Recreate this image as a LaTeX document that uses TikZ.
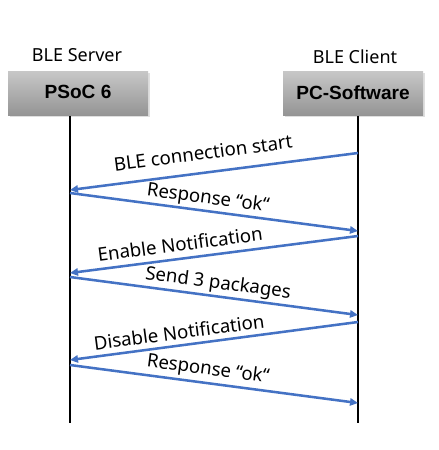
\documentclass[tikz,border=0pt]{standalone}
\usepackage{fontspec}
\setmainfont{Noto Sans}
\newfontfamily\boxfont{Liberation Sans}
\usetikzlibrary{arrows.meta,shadows}
\definecolor{msgblue}{HTML}{4472C4}
\begin{document}
\begin{tikzpicture}[x=0.75pt,y=-0.75pt,
  actor/.style={draw=none,minimum width=105pt,minimum height=33pt,inner sep=0pt,
    top color=black!22,bottom color=black!42,
    drop shadow={shadow xshift=1.2pt,shadow yshift=-1.2pt,opacity=0.25},
    font=\boxfont\bfseries\fontsize{14.3}{16}\selectfont},
  role/.style={font=\fontsize{13.5}{15}\selectfont},
  life/.style={line width=2.2pt,black},
  msg/.style={line width=1.9pt,msgblue,-{Triangle[length=6pt,width=5.5pt]}},
  lbl/.style={font=\fontsize{14}{16}\selectfont,inner sep=0pt}]
\useasboundingbox (0,0) rectangle (439,450);
\node[actor] (psoc) at (78,93.5) {\raisebox{2pt}{PSoC 6}};
\node[actor] (pc) at (353,93.5) {\raisebox{2pt}{PC-Software}};
\node[role] (srv) at (77,55) {BLE Server};
\node[role] (cli) at (355,57) {BLE Client};
\coordinate (lend) at (70,423);
\coordinate (rend) at (358,423);
\draw[life] (psoc.south -| lend) -- (lend);
\draw[life] (pc.south -| rend) -- (rend);
\coordinate (r1) at (358,153); \coordinate (l1) at (70,190);
\coordinate (l2) at (70,193); \coordinate (r2) at (358,231);
\coordinate (r3) at (358,236); \coordinate (l3) at (70,273);
\coordinate (l4) at (70,277); \coordinate (r4) at (358,315);
\coordinate (r5) at (358,322); \coordinate (l5) at (70,360);
\coordinate (l6) at (70,365); \coordinate (r6) at (358,403);
\draw[msg] (r1) -- (l1);
\draw[msg] (l2) -- (r2);
\draw[msg] (r3) -- (l3);
\draw[msg] (l4) -- (r4);
\draw[msg] (r5) -- (l5);
\draw[msg] (l6) -- (r6);
\node[lbl,rotate=7.5] (t1) at (203,153) {BLE connection start};
\node[lbl,rotate=-7.5] (t2) at (208,199) {Response “ok“};
\node[lbl,rotate=7.5] (t3) at (180,244) {Enable Notification};
\node[lbl,rotate=-7.5] (t4) at (218,284) {Send 3 packages};
\node[lbl,rotate=7.5] (t5) at (179,332) {Disable Notification};
\node[lbl,rotate=-7.5] (t6) at (208,370) {Response “ok“};
\end{tikzpicture}
\end{document}
